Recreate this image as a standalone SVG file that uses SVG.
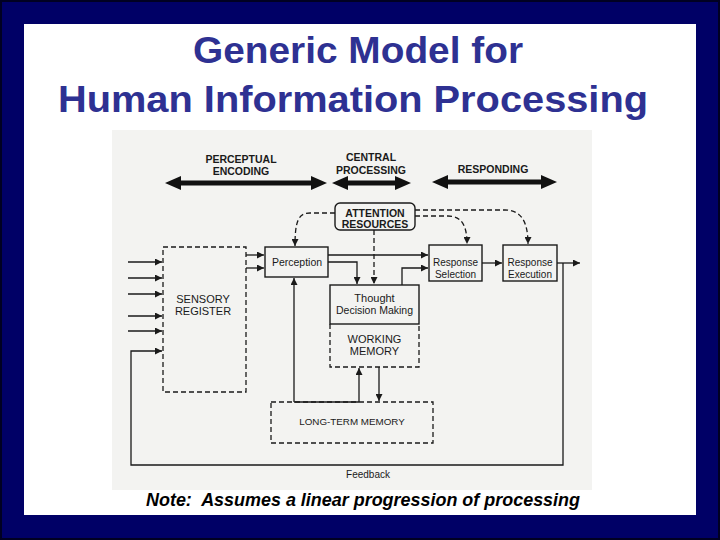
<svg xmlns="http://www.w3.org/2000/svg" width="720" height="540" viewBox="0 0 720 540">
<style>
.t{font-family:"Liberation Sans",Arial,sans-serif;fill:#1a1a1a}
.b{font-weight:bold}
.ttl{font-family:"Liberation Sans",Arial,sans-serif;font-weight:bold;fill:#2e3192;font-size:36px}
.ln{fill:none;stroke:#1a1a1a;stroke-width:1.3}
.ds{fill:none;stroke:#1a1a1a;stroke-width:1.3;stroke-dasharray:5,3}
.box{fill:none;stroke:#1a1a1a;stroke-width:1.4}
.thick{fill:#111}
</style>
<defs>
<marker id="ah" viewBox="0 0 10 10" refX="10" refY="5" markerWidth="8" markerHeight="7" orient="auto" markerUnits="userSpaceOnUse">
<path d="M0,0 L10,5 L0,10 z" fill="#1a1a1a"/>
</marker>
</defs>
<rect x="0" y="0" width="720" height="540" fill="#000066"/>
<rect x="1" y="1" width="718" height="538" fill="none" stroke="#000022" stroke-width="2"/>
<rect x="24" y="24" width="672" height="491" fill="#ffffff"/>
<rect x="112" y="130" width="480" height="360" fill="#f3f3f1"/>

<g id="title">
<text class="ttl" x="358" y="63" text-anchor="middle" textLength="330" lengthAdjust="spacingAndGlyphs">Generic Model for</text>
<text class="ttl" x="353" y="112" text-anchor="middle" textLength="590" lengthAdjust="spacingAndGlyphs">Human Information Processing</text>
</g>

<g id="stages">
<text class="t b" font-size="10.5" x="241" y="163" text-anchor="middle">PERCEPTUAL</text>
<text class="t b" font-size="10.5" x="241" y="175" text-anchor="middle">ENCODING</text>
<text class="t b" font-size="10.5" x="371" y="161" text-anchor="middle">CENTRAL</text>
<text class="t b" font-size="10.5" x="371" y="174" text-anchor="middle">PROCESSING</text>
<text class="t b" font-size="10.5" x="493" y="173" text-anchor="middle">RESPONDING</text>
<polygon class="thick" points="165,183 181,176 181,180.5 311,180.5 311,176 327,183 311,190 311,185.5 181,185.5 181,190"/>
<polygon class="thick" points="332,183 348,176 348,180.5 395,180.5 395,176 411,183 395,190 395,185.5 348,185.5 348,190"/>
<polygon class="thick" points="432,182 448,175 448,179.5 541,179.5 541,175 557,182 541,189 541,184.5 448,184.5 448,189"/>
</g>

<g id="attention">
<rect class="box" x="335" y="203" width="80" height="27" rx="5"/>
<text class="t b" font-size="10.5" x="375" y="217" text-anchor="middle">ATTENTION</text>
<text class="t b" font-size="10.5" x="375" y="228" text-anchor="middle">RESOURCES</text>
</g>

<g id="sensory">
<rect class="ds" x="163" y="247" width="83" height="145"/>
<text class="t" font-size="11" x="203" y="303" text-anchor="middle">SENSORY</text>
<text class="t" font-size="11" x="203" y="315" text-anchor="middle">REGISTER</text>
</g>

<g id="perception">
<rect class="box" x="265" y="247" width="63" height="30"/>
<text class="t" font-size="10.5" x="297" y="266" text-anchor="middle">Perception</text>
</g>

<g id="thought">
<rect class="box" x="330" y="285" width="89" height="39"/>
<text class="t" font-size="11" x="374.5" y="302" text-anchor="middle">Thought</text>
<text class="t" font-size="10.5" x="374.5" y="314" text-anchor="middle">Decision Making</text>
</g>

<g id="working-memory">
<path class="ds" d="M330,324 V367 H419 V324"/>
<text class="t" font-size="11" x="374.5" y="343" text-anchor="middle">WORKING</text>
<text class="t" font-size="11" x="374.5" y="355" text-anchor="middle">MEMORY</text>
</g>

<g id="response-selection">
<rect class="box" x="429" y="245" width="53" height="36"/>
<text class="t" font-size="10" x="455.5" y="266" text-anchor="middle">Response</text>
<text class="t" font-size="10" x="455.5" y="277.5" text-anchor="middle">Selection</text>
</g>

<g id="response-execution">
<rect class="box" x="503" y="245" width="54" height="36"/>
<text class="t" font-size="10" x="530" y="266" text-anchor="middle">Response</text>
<text class="t" font-size="10" x="530" y="277.5" text-anchor="middle">Execution</text>
</g>

<g id="ltm">
<rect class="ds" x="271" y="402" width="162" height="41"/>
<text class="t" font-size="9.8" x="352" y="425" text-anchor="middle">LONG-TERM MEMORY</text>
</g>

<g id="connectors">
<path class="ds" d="M335,213 H310 C298,213 295,222 295,246" marker-end="url(#ah)"/>
<path class="ds" d="M415,216 H448 C462,216 467,226 467,244" marker-end="url(#ah)"/>
<path class="ds" d="M415,210 H505 C520,210 528,220 528,244" marker-end="url(#ah)"/>
<path class="ds" d="M374,230 V284" marker-end="url(#ah)"/>

<path class="ln" d="M128,262 H162" marker-end="url(#ah)"/>
<path class="ln" d="M128,278 H162" marker-end="url(#ah)"/>
<path class="ln" d="M128,294 H162" marker-end="url(#ah)"/>
<path class="ln" d="M128,316 H162" marker-end="url(#ah)"/>
<path class="ln" d="M128,331 H162" marker-end="url(#ah)"/>

<path class="ln" d="M246,255 H264" marker-end="url(#ah)"/>
<path class="ln" d="M246,268 H264" marker-end="url(#ah)"/>

<path class="ln" d="M328,255 H428" marker-end="url(#ah)"/>
<path class="ln" d="M328,262 H357 V284" marker-end="url(#ah)"/>
<path class="ln" d="M402,285 V268 H428" marker-end="url(#ah)"/>
<path class="ln" d="M482,263 H502" marker-end="url(#ah)"/>
<path class="ln" d="M557,263 H580" marker-end="url(#ah)"/>

<path class="ln" d="M563,263 V465 H131 V351 H162" marker-end="url(#ah)"/>

<path class="ln" d="M294,402 H359"/>
<path class="ln" d="M294,402 V278" marker-end="url(#ah)"/>
<path class="ln" d="M359,402 V368" marker-end="url(#ah)"/>
<path class="ln" d="M379,367 V401" marker-end="url(#ah)"/>
</g>

<text class="t" font-size="10" x="368" y="478" text-anchor="middle">Feedback</text>
<text font-family="'Liberation Sans',Arial,sans-serif" font-weight="bold" font-style="italic" font-size="18" fill="#000" x="363" y="506" text-anchor="middle" textLength="434" lengthAdjust="spacingAndGlyphs" style="white-space:pre">Note:  Assumes a linear progression of processing</text>
</svg>
